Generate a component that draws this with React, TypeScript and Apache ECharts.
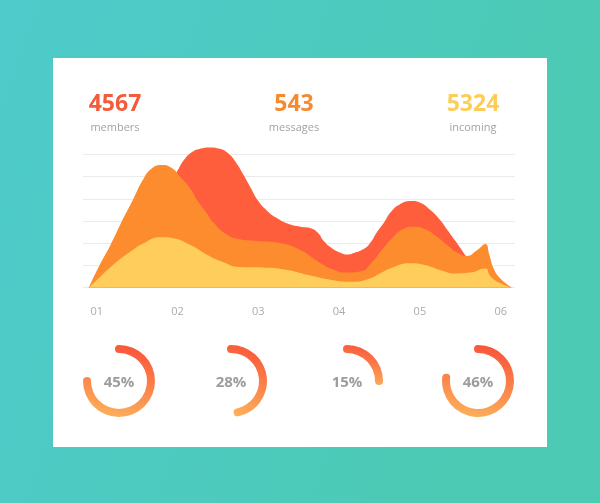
import React, { useEffect, useRef } from "react";
import * as echarts from "echarts";

// ---------- data ----------
const xLabels = ["01", "02", "03", "04", "05", "06"];

const statNumbers = ["4567", "543", "5324"];
const statNames = ["members", "messages", "incoming"];

// [x (period index), value]
const redArea: [number, number][] = [
  [0.9, 0], [1.1, 0.71], [1.29, 1.52], [1.47, 2.42], [1.66, 3.41], [1.85, 4.4],
  [1.99, 5.21], [2.08, 5.75], [2.18, 6.11], [2.29, 6.27], [2.4, 6.32], [2.51, 6.27],
  [2.63, 6.05], [2.72, 5.66], [2.81, 5.12], [2.9, 4.54], [3.0, 3.9], [3.11, 3.46],
  [3.22, 3.16], [3.36, 2.89], [3.52, 2.75], [3.65, 2.68], [3.74, 2.46], [3.81, 2.1],
  [3.91, 1.78], [4.01, 1.59], [4.1, 1.5], [4.2, 1.59], [4.28, 1.7], [4.37, 1.95],
  [4.47, 2.51], [4.56, 2.96], [4.64, 3.41], [4.74, 3.73], [4.89, 3.9], [5.01, 3.82],
  [5.13, 3.5], [5.25, 3.05], [5.34, 2.6], [5.44, 2.1], [5.51, 1.74], [5.58, 1.4],
  [5.75, 0.98], [5.93, 0.44], [6.14, 0],
];

const orangeArea: [number, number][] = [
  [0.9, 0], [1.03, 0.98], [1.17, 1.92], [1.3, 2.91], [1.44, 3.9], [1.57, 4.85],
  [1.68, 5.37], [1.81, 5.53], [1.93, 5.39], [2.04, 4.96], [2.16, 4.45], [2.25, 3.9],
  [2.35, 3.41], [2.45, 2.91], [2.58, 2.46], [2.75, 2.19], [3.0, 2.1], [3.27, 2.01],
  [3.52, 1.7], [3.71, 1.25], [3.91, 0.84], [4.1, 0.68], [4.28, 0.75], [4.41, 1.16],
  [4.52, 1.65], [4.64, 2.17], [4.78, 2.62], [4.92, 2.75], [5.06, 2.64], [5.21, 2.3],
  [5.34, 1.92], [5.45, 1.61], [5.58, 1.43], [5.71, 1.7], [5.81, 1.97], [5.86, 1.47],
  [5.91, 0.89], [5.99, 0.44], [6.14, 0],
];

const yellowArea: [number, number][] = [
  [0.9, 0], [1.04, 0.48], [1.2, 1.02], [1.41, 1.61], [1.61, 2.06], [1.78, 2.27],
  [1.94, 2.23], [2.16, 1.92], [2.37, 1.47], [2.53, 1.2], [2.77, 0.93], [3.05, 0.91],
  [3.33, 0.82], [3.62, 0.57], [3.91, 0.35], [4.16, 0.27], [4.38, 0.42], [4.51, 0.65],
  [4.63, 0.87], [4.88, 1.1], [5.06, 1.02], [5.25, 0.8], [5.44, 0.64], [5.62, 0.68],
  [5.81, 0.87], [5.87, 0.53], [5.99, 0.21], [6.14, 0],
];

const donutValues = [45, 28, 15, 46];
const donutScaleMax = 60;

// ---------- layout / style ----------
const W = 600;
const H = 503;
const FONT = '"Open Sans", "Noto Sans", sans-serif';
const statColors = ["#f35b3a", "#f58a2f", "#fccd58"];
const statX = [115, 294, 473];
const donutCenters: [number, number][] = [
  [119, 381],
  [231, 381],
  [347, 381],
  [478, 381],
];

export default function App() {
  const ref = useRef<HTMLDivElement>(null);

  useEffect(() => {
    if (!ref.current) return;
    const chart = echarts.init(ref.current, undefined, { renderer: "svg" });

    const graphicEls: any[] = [
      {
        type: "rect",
        z: -20,
        shape: { x: 0, y: 0, width: W, height: H },
        style: {
          fill: new echarts.graphic.LinearGradient(0, 0, 1, 0.3, [
            { offset: 0, color: "#4ecbcb" },
            { offset: 1, color: "#4ccab3" },
          ]),
        },
      },
      {
        type: "rect",
        z: -19,
        shape: { x: 53, y: 58, width: 494, height: 389 },
        style: { fill: "#ffffff" },
      },
    ];
    statNumbers.forEach((n, i) => {
      graphicEls.push({
        type: "text",
        z: 10,
        x: statX[i],
        y: 102,
        style: {
          text: n,
          fill: statColors[i],
          fontFamily: FONT,
          fontSize: 23,
          fontWeight: "bold",
          align: "center",
          verticalAlign: "middle",
          textAlign: "center",
          textVerticalAlign: "middle",
        },
      });
      graphicEls.push({
        type: "text",
        z: 10,
        x: statX[i],
        y: 126,
        style: {
          text: statNames[i],
          fill: "#a3a3a3",
          fontFamily: FONT,
          fontSize: 11,
          align: "center",
          verticalAlign: "middle",
          textAlign: "center",
          textVerticalAlign: "middle",
        },
      });
    });

    const areaSeries = [
      { data: redArea, color: "#fe5e3b" },
      { data: orangeArea, color: "#fd8c2f" },
      { data: yellowArea, color: "#fecd5c" },
    ].map((s, i) => ({
      type: "line",
      data: s.data,
      smooth: 0.5,
      showSymbol: false,
      symbol: "none",
      z: 2 + i,
      lineStyle: { width: 0, color: s.color },
      itemStyle: { color: s.color },
      areaStyle: { color: s.color, opacity: 1 },
    }));

    const gaugeSeries = donutValues.map((v, i) => ({
      type: "gauge",
      center: donutCenters[i],
      radius: 36,
      startAngle: 90,
      endAngle: -270,
      min: 0,
      max: donutScaleMax,
      pointer: { show: false },
      progress: {
        show: true,
        roundCap: true,
        width: 8,
        itemStyle: {
          color: new echarts.graphic.LinearGradient(0.6, 0, 0.4, 1, [
            { offset: 0, color: "#f9553a" },
            { offset: 1, color: "#fdaf5a" },
          ]),
        },
      },
      axisLine: { show: true, lineStyle: { width: 8, color: [[1, "rgba(0,0,0,0)"]] } },
      splitLine: { show: false },
      axisTick: { show: false },
      axisLabel: { show: false },
      title: { show: false },
      detail: {
        show: true,
        offsetCenter: [0, 0],
        formatter: "{value}%",
        fontFamily: FONT,
        fontSize: 15,
        fontWeight: "bold",
        color: "#9d9d9d",
        valueAnimation: false,
      },
      data: [{ value: v }],
    }));

    const gridLineColors = ["#ebebeb", "#ebebeb", "#ebebeb", "#ebebeb", "#ebebeb", "#ebebeb", "#ebebeb", "rgba(0,0,0,0)"];

    chart.setOption({
      animation: false,
      textStyle: { fontFamily: FONT },
      graphic: { elements: graphicEls },
      grid: { left: 83, right: 85, top: 132.3, bottom: 215.3 },
      xAxis: {
        type: "value",
        min: 0.83,
        max: 6.177,
        minInterval: 1,
        maxInterval: 1,
        axisLine: { show: false },
        axisTick: { show: false },
        splitLine: { show: false },
        axisLabel: {
          margin: 17,
          color: "#ababab",
          fontSize: 11,
          fontFamily: FONT,
          showMinLabel: true,
          showMaxLabel: true,
          formatter: (v: number) => {
            const r = Math.round(v);
            if (Math.abs(v - r) > 1e-6) return "";
            return xLabels[r - 1] ?? "";
          },
        },
      },
      yAxis: {
        type: "value",
        min: 0,
        max: 7,
        interval: 1,
        axisLine: { show: false },
        axisTick: { show: false },
        axisLabel: { show: false },
        splitLine: { show: true, lineStyle: { color: gridLineColors, width: 1 } },
      },
      series: [...areaSeries, ...gaugeSeries],
    });

    return () => chart.dispose();
  }, []);

  return (
    <div
      ref={ref}
      style={{ position: "fixed", left: 0, top: 0, width: W, height: H }}
    />
  );
}
